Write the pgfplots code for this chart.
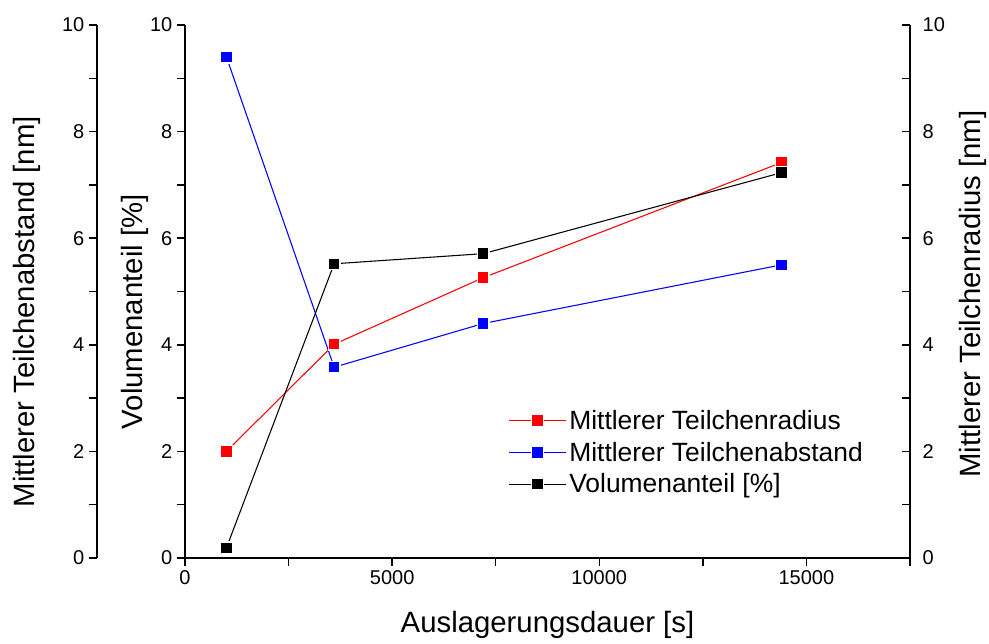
\documentclass[border=0pt]{standalone}
\usepackage{fontspec}
\setmainfont{Liberation Sans}
\usepackage{pgfplots}
\pgfplotsset{compat=1.18}

% 1px = 0.75pt; plot box 725x533 px
\newcommand{\labfont}{\fontsize{22}{26}\selectfont}
\pgfplotsset{
  common/.style={
    scale only axis, height=399.75pt,
    ymin=0, ymax=10, xmax=17500,
    ytick={0,2,...,10}, minor ytick={1,3,...,9},
    axis line style={line width=1.1pt},
    every tick/.style={line width=1.1pt, black},
    major tick length=6pt, minor tick length=6pt,
    tick label style={font=\fontsize{15}{18}\selectfont},
    /pgf/number format/assume math mode=true,
    /pgf/number format/1000 sep={},
  },
  pt/.style={color=#1, line width=0.8pt, mark=square*, mark size=4.4pt,
    mark options={fill=#1, draw=white, line width=1pt, solid}},
}

\begin{document}
\begin{tikzpicture}
\path[use as bounding box] (-138.75pt,-63.75pt) rectangle (603pt,418.5pt);

% outer left axis: Teilchenabstand
\begin{axis}[common,
  at={(-66pt,0pt)}, anchor=south west, width=609.75pt,
  xmin=-2124.14,
  axis x line=none, axis y line*=left, tick align=outside,
  ylabel={Mittlerer Teilchenabstand [nm]},
  every axis y label/.style={at={(axis description cs:-0.086,0.462)}, rotate=90, anchor=center, font=\labfont},
]
\addplot[pt=blue] coordinates {
  (1000, 9.40) (3600, 3.58) (7200, 4.40) (14400, 5.50)
};
\end{axis}

% right axis: Teilchenradius
\begin{axis}[common,
  at={(0pt,0pt)}, anchor=south west, width=543.75pt,
  xmin=0,
  axis x line=none, axis y line*=right, tick align=inside,
  yticklabel style={xshift=6pt},
  ylabel={Mittlerer Teilchenradius [nm]},
  every axis y label/.style={at={(axis description cs:1.087,0.495)}, rotate=90, anchor=center, font=\labfont},
]
\addplot[pt=red] coordinates {
  (1000, 2.00) (3600, 4.01) (7200, 5.26) (14400, 7.42)
};
\end{axis}

% main axis: Volumenanteil
\begin{axis}[common,
  at={(0pt,0pt)}, anchor=south west, width=543.75pt,
  xmin=0,
  axis x line*=bottom, axis y line*=left, tick align=outside,
  xtick={0,5000,10000,15000}, minor xtick={2500,7500,12500,17500},
  scaled x ticks=false,
  xlabel={Auslagerungsdauer [s]},
  ylabel={Volumenanteil [\%]},
  every axis x label/.style={at={(axis description cs:0.5,0)}, anchor=center, yshift=-50pt, font=\labfont},
  every axis y label/.style={at={(axis description cs:-0.069,0.462)}, rotate=90, anchor=center, font=\labfont},
  legend image code/.code={
    \draw[#1, mark=none] (0pt,0pt) -- (43pt,0pt);
    \draw[#1, only marks] plot coordinates {(21.5pt,0pt)};},
  legend style={at={(rel axis cs:0.4455,0.283)}, anchor=north west, draw=none, fill=none,
    font=\fontsize{19.8}{24}\selectfont, inner sep=0pt, row sep=4pt},
  legend cell align=left,
]
\addlegendimage{pt=red}
\addlegendentry{Mittlerer Teilchenradius}
\addlegendimage{pt=blue}
\addlegendentry{Mittlerer Teilchenabstand}
\addplot[pt=black] coordinates {
  (1000, 0.19) (3600, 5.52) (7200, 5.71) (14400, 7.23)
};
\addlegendentry{Volumenanteil [\%]}
\end{axis}
\end{tikzpicture}
\end{document}
